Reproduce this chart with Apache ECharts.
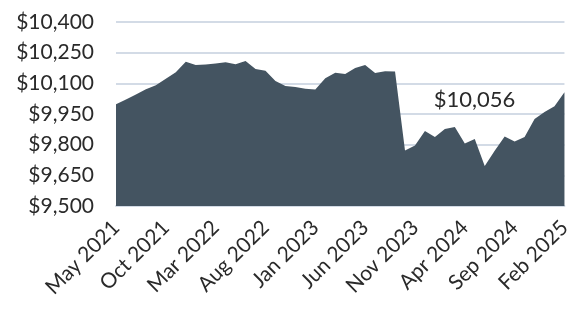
<!DOCTYPE html>
<html>
<head>
<meta charset="utf-8">
<script src="https://cdn.jsdelivr.net/npm/echarts@6/dist/echarts.min.js"></script>
<style>
  html, body { margin: 0; padding: 0; background: #fff; }
  #main { width: 574px; height: 310px; }
</style>
</head>
<body>
<div id="main"></div>
<script>
var months = [
  'May 2021','Jun 2021','Jul 2021','Aug 2021','Sep 2021',
  'Oct 2021','Nov 2021','Dec 2021','Jan 2022','Feb 2022',
  'Mar 2022','Apr 2022','May 2022','Jun 2022','Jul 2022',
  'Aug 2022','Sep 2022','Oct 2022','Nov 2022','Dec 2022',
  'Jan 2023','Feb 2023','Mar 2023','Apr 2023','May 2023',
  'Jun 2023','Jul 2023','Aug 2023','Sep 2023','Oct 2023',
  'Nov 2023','Dec 2023','Jan 2024','Feb 2024','Mar 2024',
  'Apr 2024','May 2024','Jun 2024','Jul 2024','Aug 2024',
  'Sep 2024','Oct 2024','Nov 2024','Dec 2024','Jan 2025',
  'Feb 2025'
];
var values = [
  9998, 10021, 10045, 10071, 10091, 10122, 10154, 10206, 10190, 10192,
  10197, 10203, 10193, 10209, 10170, 10161, 10112, 10087, 10082, 10073,
  10070, 10125, 10152, 10146, 10175, 10190, 10150, 10159, 10158, 9772,
  9796, 9867, 9837, 9877, 9887, 9806, 9828, 9696, 9770, 9840,
  9816, 9838, 9926, 9960, 9988, 10056
];
var yMin = 9500, yMax = 10400, yStep = 150;

var myChart = echarts.init(document.getElementById('main'));

var option = {
  animation: false,
  grid: { left: 116, right: 4, top: 22, bottom: 104 },
  xAxis: {
    type: 'category',
    data: months,
    boundaryGap: false,
    axisLine: { lineStyle: { color: '#d3dbe6', width: 2 } },
    axisTick: { show: false },
    axisLabel: {
      interval: 4,
      rotate: 45,
      color: '#2a2a2a',
      fontSize: 21,
      fontFamily: 'Lato',
      margin: 18
    }
  },
  yAxis: {
    type: 'value',
    min: yMin,
    max: yMax,
    interval: yStep,
    axisLine: { show: false },
    axisTick: { show: false },
    splitLine: { lineStyle: { color: '#d3dbe6', width: 2 } },
    axisLabel: {
      color: '#2a2a2a',
      fontSize: 21,
      fontFamily: 'Lato',
      margin: 22,
      formatter: function (v) { return '$' + v.toLocaleString('en-US'); }
    }
  },
  series: [{
    type: 'line',
    data: values,
    symbol: 'none',
    lineStyle: { width: 0 },
    areaStyle: { color: '#445461', opacity: 1 },
    markPoint: {
      symbol: 'circle',
      symbolSize: 0,
      data: [{ coord: [months.length - 1, values[values.length - 1]] }],
      label: {
        show: true,
        offset: [-90, 8],
        color: '#2a2a2a',
        fontSize: 22,
        fontFamily: 'Lato',
        formatter: function () { return '$' + values[values.length - 1].toLocaleString('en-US'); }
      }
    }
  }]
};

myChart.setOption(option);
</script>
</body>
</html>
